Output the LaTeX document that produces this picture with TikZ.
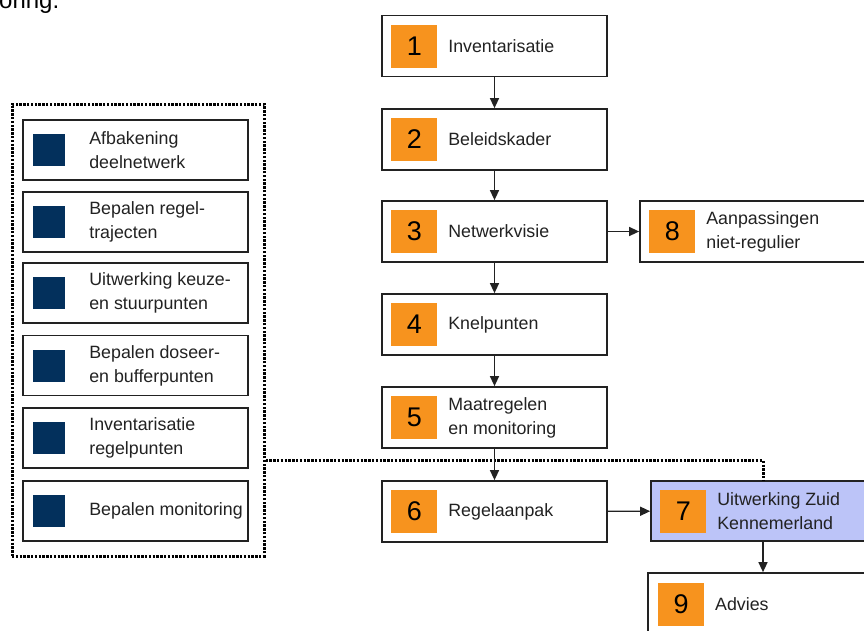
\documentclass[tikz,border=0pt]{standalone}
\usepackage{fontspec}
\setmainfont{Liberation Sans}
\usetikzlibrary{arrows.meta}
\definecolor{numorange}{HTML}{F7931E}
\definecolor{navy}{HTML}{03305C}
\definecolor{lavender}{HTML}{BCC4F8}
\definecolor{ink}{HTML}{222222}
\begin{document}
\begin{tikzpicture}[x=1pt,y=-1pt,
  stepbox/.style={draw=ink,line width=1.7pt,fill=white,minimum width=225pt,minimum height=61pt,inner sep=0pt},
  sidebox/.style={draw=ink,line width=1.7pt,fill=white,minimum width=225pt,minimum height=60pt,inner sep=0pt},
  numsq/.style={fill=numorange,minimum width=46pt,minimum height=43pt,inner sep=0pt,font=\fontsize{27}{27}\selectfont,text=black},
  navysq/.style={fill=navy,minimum width=32pt,minimum height=32pt,inner sep=0pt},
  lbl/.style={anchor=west,inner sep=0pt,align=left,text=ink,font=\fontsize{17.8}{24}\selectfont},
  flow/.style={draw=ink,line width=1.3pt,-{Triangle[length=10pt,width=9pt]}},
  dotline/.style={draw=black,line width=3pt,dash pattern=on 2.4pt off 1.4pt}]
\useasboundingbox (0,0) rectangle (864,630);
\fill[white] (0,0) rectangle (864,630);

% fragment of running text above the figure
\node[anchor=base west,inner sep=0pt,text=black,font=\fontsize{24}{24}\selectfont] (runon) at (-1,8) {oring.};

% main process column
\node[stepbox] (b1) at (494.5,46) {};
\node[stepbox] (b2) at (494.5,139.5) {};
\node[stepbox] (b3) at (494.5,231.5) {};
\node[stepbox] (b4) at (494.5,324.5) {};
\node[stepbox] (b5) at (494.5,417.5) {};
\node[stepbox] (b6) at (494.5,511.5) {};
% side branches
\node[stepbox,minimum width=240pt] (b8) at (760,231.5) {};
\node[stepbox,fill=lavender,minimum width=230pt,minimum height=60pt] (b7) at (766,511) {};
\node[stepbox,minimum width=240pt,minimum height=70pt] (b9) at (768,608) {};

% numbered squares and labels
\foreach \b/\n/\t in {b1/1/Inventarisatie, b2/2/Beleidskader, b3/3/Netwerkvisie, b4/4/Knelpunten,
    b5/5/{Maatregelen\\en monitoring}, b6/6/Regelaanpak, b8/8/{Aanpassingen\\niet-regulier},
    b7/7/{Uitwerking Zuid\\Kennemerland}} {
  \node[numsq,anchor=west] (n\b) at ([xshift=10pt]\b.west) {\n};
  \node[lbl] (t\b) at ([xshift=67pt]\b.west) {\t};
}
\node[numsq,anchor=west] (nb9) at (658,604) {9};
\node[lbl] (tb9) at (715,604) {Advies};

% connectors of the main flow
\draw[flow] (b1) -- (b2);
\draw[flow] (b2) -- (b3);
\draw[flow] (b3) -- (b4);
\draw[flow] (b4) -- (b5);
\draw[flow] (b3) -- (b8);
\draw[flow] (b6) -- (b7);
\coordinate (k) at (763,541);
\draw[flow] (k) -- (k |- b9.north);

% dotted frame with sub-steps
\node[dotline,draw,minimum width=252pt,minimum height=452pt,inner sep=0pt] (frame) at (138,330) {};
\foreach \i/\y/\t in {1/150/{Afbakening\\deelnetwerk}, 2/222/{Bepalen regel-\\trajecten},
    3/293/{Uitwerking keuze-\\en stuurpunten}, 4/365.5/{Bepalen doseer-\\en bufferpunten},
    5/438/{Inventarisatie\\regelpunten}, 6/511/{Bepalen monitoring}} {
  \node[sidebox] (s\i) at (135.5,\y) {};
  \node[navysq,anchor=west] (q\i) at ([xshift=11pt]s\i.west) {};
  \node[lbl] (l\i) at ([xshift=67pt]s\i.west) {\t};
}

% dotted link from the frame to step 7
\coordinate (j) at (763,460.5);
\draw[dotline] (frame.east |- j) -- (j) -- (j |- b7.north);
\draw[flow] (b5.south) -- (b6.north);
\end{tikzpicture}
\end{document}
